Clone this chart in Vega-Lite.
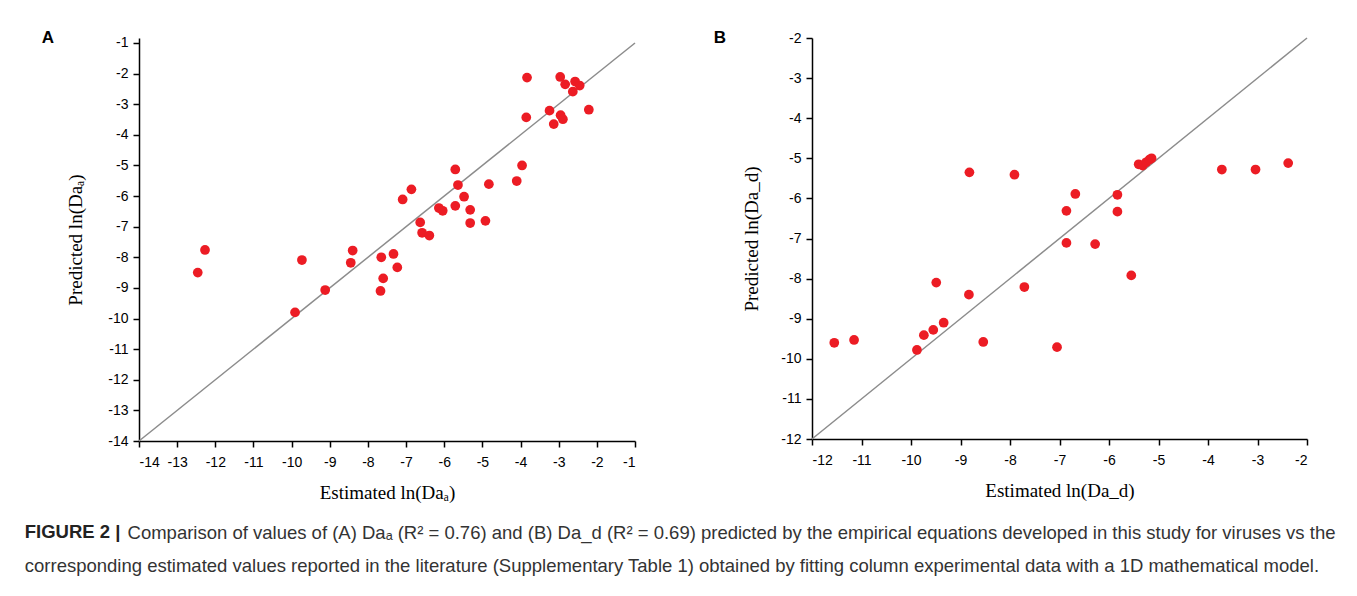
{
  "$schema": "https://vega.github.io/schema/vega-lite/v6.json",
  "background": "white",
  "padding": {"left": 24, "top": 28, "right": 5, "bottom": 5},
  "title": {"text": "FIGURE 2 |", "orient": "bottom", "anchor": "start", "frame": "bounds", "font": "Liberation Sans", "fontSize": 18.5, "fontWeight": "bold", "color": "#222", "dx": 0, "dy": -57},
  "vconcat": [
    {
      "title": {
        "text": ["\u200b\u00a0\u00a0\u00a0\u00a0\u00a0\u00a0\u00a0\u00a0\u00a0\u00a0\u00a0\u00a0\u00a0\u00a0\u00a0\u00a0\u00a0\u00a0\u00a0\u00a0Comparison of values of (A) Daₐ (R² = 0.76) and (B) Da_d (R² = 0.69) predicted by the empirical equations developed in this study for viruses vs the", "corresponding estimated values reported in the literature (Supplementary Table 1) obtained by fitting column experimental data with a 1D mathematical model."],
        "orient": "bottom", "anchor": "start", "frame": "bounds", "font": "Liberation Sans", "fontSize": 18.5, "fontWeight": "normal", "color": "#333", "lineHeight": 33, "offset": 22, "dx": -17
      },
      "spacing": 75,
      "hconcat": [
        {
          "width": 496,
          "height": 403,
          "title": {"text": "A", "anchor": "start", "frame": "bounds", "font": "Liberation Sans", "fontSize": 17, "fontWeight": "bold", "color": "#000", "dx": -25, "dy": 24, "offset": 13},
          "layer": [
            {
              "data": {"name": "lineA"},
              "mark": {"type": "line", "color": "#8c8c8c", "strokeWidth": 1.5},
              "encoding": {
                "x": {"field": "x", "type": "quantitative", "scale": {"domain": [-14, -1], "nice": false, "zero": false}, "axis": {"title": "Estimated ln(Daₐ)", "labelOverlap": false, "tickCount": 14, "values": [-14, -13, -12, -11, -10, -9, -8, -7, -6, -5, -4, -3, -2, -1]}},
                "y": {"field": "y", "type": "quantitative", "scale": {"domain": [-14, -0.837], "nice": false, "zero": false}, "axis": {"title": "Predicted ln(Daₐ)", "titlePadding": 22, "labelOverlap": false, "tickCount": 14, "values": [-14, -13, -12, -11, -10, -9, -8, -7, -6, -5, -4, -3, -2, -1]}}
              }
            },
            {
              "data": {"name": "ptsA"},
              "mark": {"type": "circle", "color": "#ec1c24", "opacity": 1, "size": 95},
              "encoding": {
                "x": {"field": "x", "type": "quantitative"},
                "y": {"field": "y", "type": "quantitative"}
              }
            }
          ]
        },
        {
          "width": 495,
          "height": 401,
          "title": {"text": "B", "anchor": "start", "frame": "bounds", "font": "Liberation Sans", "fontSize": 17, "fontWeight": "bold", "color": "#000", "dx": -29, "dy": 20, "offset": 4},
          "layer": [
            {
              "data": {"name": "lineB"},
              "mark": {"type": "line", "color": "#8c8c8c", "strokeWidth": 1.5},
              "encoding": {
                "x": {"field": "x", "type": "quantitative", "scale": {"domain": [-12, -2], "nice": false, "zero": false}, "axis": {"title": "Estimated ln(Da_d)", "labelOverlap": false, "values": [-12, -11, -10, -9, -8, -7, -6, -5, -4, -3, -2]}},
                "y": {"field": "y", "type": "quantitative", "scale": {"domain": [-12, -2], "nice": false, "zero": false}, "axis": {"title": "Predicted ln(Da_d)", "titlePadding": 19, "labelOverlap": false, "values": [-12, -11, -10, -9, -8, -7, -6, -5, -4, -3, -2]}}
              }
            },
            {
              "data": {"name": "ptsB"},
              "mark": {"type": "circle", "color": "#ec1c24", "opacity": 1, "size": 95},
              "encoding": {
                "x": {"field": "x", "type": "quantitative"},
                "y": {"field": "y", "type": "quantitative"}
              }
            }
          ]
        }
      ]
    }
  ],
  "datasets": {
    "lineA": [{"x": -14, "y": -14}, {"x": -1, "y": -1}],
    "lineB": [{"x": -12, "y": -12}, {"x": -2, "y": -2}],
    "ptsA": [
      {"x": -3.83, "y": -2.13}, {"x": -2.96, "y": -2.11}, {"x": -2.83, "y": -2.35}, {"x": -2.57, "y": -2.26},
      {"x": -2.45, "y": -2.39}, {"x": -2.63, "y": -2.59}, {"x": -2.21, "y": -3.18}, {"x": -3.24, "y": -3.21},
      {"x": -3.85, "y": -3.43}, {"x": -2.95, "y": -3.36}, {"x": -2.89, "y": -3.49}, {"x": -3.13, "y": -3.65},
      {"x": -3.96, "y": -5.0}, {"x": -4.1, "y": -5.51}, {"x": -5.71, "y": -5.13}, {"x": -5.64, "y": -5.64},
      {"x": -4.83, "y": -5.61}, {"x": -5.48, "y": -6.02}, {"x": -6.86, "y": -5.78}, {"x": -7.09, "y": -6.11},
      {"x": -6.14, "y": -6.39}, {"x": -6.04, "y": -6.48}, {"x": -5.71, "y": -6.32}, {"x": -5.32, "y": -6.45},
      {"x": -5.32, "y": -6.88}, {"x": -4.92, "y": -6.81}, {"x": -6.63, "y": -6.86}, {"x": -6.58, "y": -7.2},
      {"x": -6.39, "y": -7.29}, {"x": -12.27, "y": -7.76}, {"x": -12.46, "y": -8.5}, {"x": -9.73, "y": -8.09},
      {"x": -8.4, "y": -7.78}, {"x": -8.45, "y": -8.18}, {"x": -7.65, "y": -8.0}, {"x": -7.33, "y": -7.89},
      {"x": -7.23, "y": -8.33}, {"x": -7.6, "y": -8.69}, {"x": -7.67, "y": -9.1}, {"x": -9.12, "y": -9.07},
      {"x": -9.91, "y": -9.8}
    ],
    "ptsB": [
      {"x": -8.82, "y": -5.35}, {"x": -7.91, "y": -5.41}, {"x": -6.68, "y": -5.89}, {"x": -6.86, "y": -6.31},
      {"x": -5.83, "y": -5.91}, {"x": -5.83, "y": -6.33}, {"x": -6.86, "y": -7.11}, {"x": -6.28, "y": -7.14},
      {"x": -5.55, "y": -7.92}, {"x": -5.4, "y": -5.15}, {"x": -5.32, "y": -5.18}, {"x": -5.25, "y": -5.1},
      {"x": -5.18, "y": -5.03}, {"x": -5.14, "y": -5.0}, {"x": -3.72, "y": -5.28}, {"x": -3.04, "y": -5.28},
      {"x": -2.38, "y": -5.12}, {"x": -9.49, "y": -8.1}, {"x": -7.71, "y": -8.21}, {"x": -8.83, "y": -8.4},
      {"x": -9.34, "y": -9.1}, {"x": -9.55, "y": -9.28}, {"x": -9.74, "y": -9.41}, {"x": -9.88, "y": -9.78},
      {"x": -11.55, "y": -9.6}, {"x": -11.15, "y": -9.53}, {"x": -8.54, "y": -9.58}, {"x": -7.05, "y": -9.71}
    ]
  },
  "config": {
    "view": {"stroke": null},
    "axis": {
      "grid": false,
      "labelOverlap": false,
      "domainColor": "#000", "domainWidth": 1.5,
      "tickColor": "#000", "tickWidth": 1.5, "tickSize": 6,
      "labelFont": "Liberation Sans", "labelFontSize": 14, "labelColor": "#000",
      "labelExpr": "'' + datum.value",
      "titleFont": "Liberation Serif", "titleFontSize": 19, "titleFontWeight": "normal", "titleColor": "#000"
    },
    "axisX": {"labelPadding": 8, "titlePadding": 14},
    "axisY": {"labelPadding": 5}
  }
}
